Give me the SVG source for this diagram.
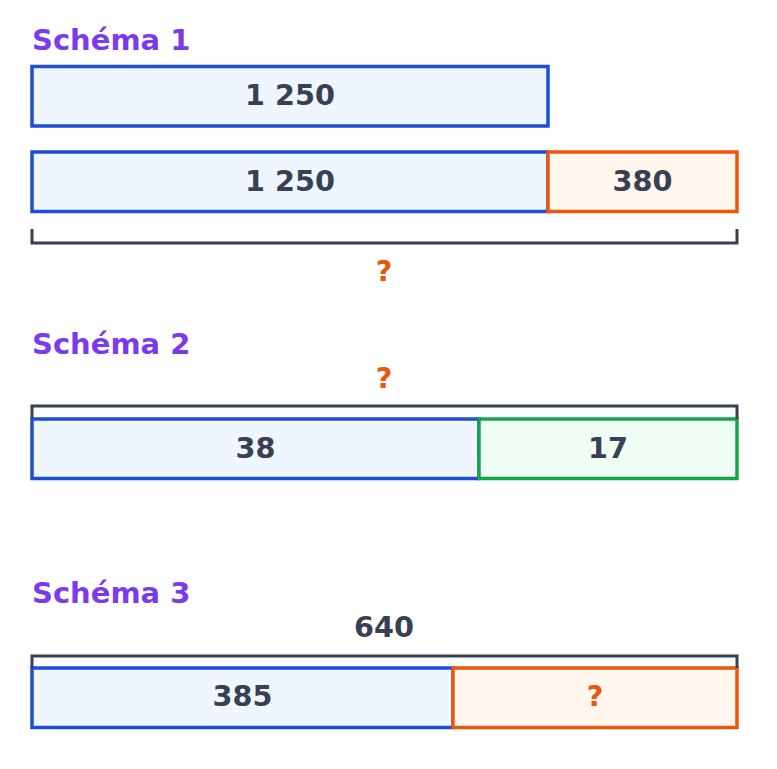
<svg xmlns="http://www.w3.org/2000/svg" width="777" height="769" viewBox="0 0 777 769">
<style>
text{font-family:"DejaVu Sans","Liberation Sans",sans-serif;font-weight:bold;}
.title{font-size:29px;fill:#7c3aed;}
.val{font-size:28.7px;fill:#374151;text-anchor:middle;}
.q{font-size:28.7px;fill:#ea580c;text-anchor:middle;}
.blue{fill:#eff6ff;stroke:#1d4ed8;stroke-width:3.5;}
.orange{fill:#fff7ed;stroke:#ea580c;stroke-width:3.5;}
.green{fill:#f0fdf4;stroke:#16a34a;stroke-width:3.5;}
.br{fill:none;stroke:#374151;stroke-width:3;}
</style>
<rect width="777" height="769" fill="#ffffff"/>
<g id="schema1">
<text class="title" x="32" y="49.5">Schéma 1</text>
<g id="s1-a"><rect class="blue" x="32" y="66.5" width="516" height="59.5"/><text class="val" x="290" y="105">1 250</text></g>
<g id="s1-b"><rect class="blue" x="32" y="152" width="516" height="59.5"/><text class="val" x="290" y="190.5">1 250</text></g>
<g id="s1-c"><rect class="orange" x="548" y="152" width="189" height="59.5"/><text class="val" x="642.5" y="190.5">380</text></g>
<g id="s1-total"><text class="q" x="384" y="281">?</text></g>
</g>
<g id="schema2">
<text class="title" x="32" y="354">Schéma 2</text>
<g id="s2-total"><text class="q" x="384" y="388">?</text></g>
<g id="s2-a"><rect class="blue" x="32" y="419" width="447" height="59.5"/><text class="val" x="255.5" y="457.5">38</text></g>
<g id="s2-b"><rect class="green" x="479" y="419" width="258" height="59.5"/><text class="val" x="608" y="457.5">17</text></g>
</g>
<g id="schema3">
<text class="title" x="32" y="603">Schéma 3</text>
<g id="s3-total"><text class="val" x="384" y="637">640</text></g>
<g id="s3-a"><rect class="blue" x="32" y="668" width="421" height="59.5"/><text class="val" x="242.5" y="706">385</text></g>
<g id="s3-b"><rect class="orange" x="453" y="668" width="284" height="59.5"/><text class="q" x="595" y="706">?</text></g>
</g>
<g id="connectors">
<path class="br" d="M32 229 V243 H737 V229"/>
<path class="br" d="M32 419 V406 H737 V419"/>
<path class="br" d="M32 668 V656 H737 V668"/>
</g>
</svg>
